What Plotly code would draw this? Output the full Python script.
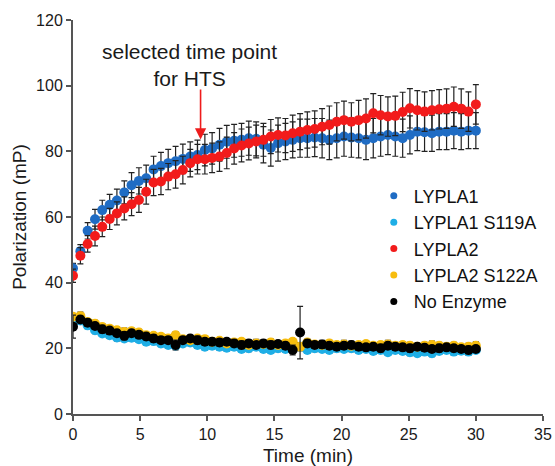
import plotly.graph_objects as go

time_min = [0.00, 0.55, 1.09, 1.64, 2.18, 2.73, 3.27, 3.82, 4.36, 4.91,
            5.45, 6.00, 6.55, 7.09, 7.64, 8.18, 8.73, 9.27, 9.82, 10.36,
            10.91, 11.45, 12.00, 12.55, 13.09, 13.64, 14.18, 14.73, 15.27, 15.82,
            16.36, 16.91, 17.45, 18.00, 18.55, 19.09, 19.64, 20.18, 20.73, 21.27,
            21.82, 22.36, 22.91, 23.45, 24.00, 24.55, 25.09, 25.64, 26.18, 26.73,
            27.27, 27.82, 28.36, 28.91, 29.45, 30.00]

lypla1 = [44.4, 49.6, 55.8, 59.3, 62.1, 63.7, 65.0, 67.5, 69.7, 71.0,
          71.8, 74.5, 75.5, 76.4, 77.0, 77.7, 78.4, 78.9, 80.4, 80.9,
          82.0, 82.9, 83.2, 83.5, 84.0, 83.8, 82.0, 81.0, 82.5, 83.0,
          83.5, 84.0, 84.0, 84.2, 84.0, 83.5, 84.0, 84.5, 84.2, 84.0,
          83.5, 84.0, 84.5, 85.0, 84.5, 84.0, 85.0, 86.0, 85.8, 85.5,
          86.0, 86.0, 86.3, 86.0, 86.3, 86.3]
lypla1_err = [1.5, 2.0, 2.5, 3.0, 3.0, 3.2, 3.5, 3.5, 3.8, 4.0,
              4.0, 4.0, 4.2, 4.2, 4.5, 4.5, 4.5, 4.5, 4.8, 4.8,
              5.0, 5.0, 5.0, 5.0, 5.2, 5.2, 5.5, 5.5, 5.5, 5.5,
              5.5, 5.8, 5.8, 5.8, 6.0, 6.0, 6.0, 6.0, 6.0, 6.0,
              6.0, 6.0, 6.0, 6.0, 6.0, 5.8, 5.8, 5.8, 5.8, 5.5,
              5.5, 5.5, 5.5, 5.5, 5.5, 5.5]

lypla1_s119a = [28.0, 28.5, 27.0, 25.5, 24.5, 24.0, 23.3, 23.0, 23.2, 22.8,
                22.0, 22.2, 21.5, 21.0, 20.8, 21.5, 21.8, 21.0, 20.5, 20.8,
                20.5, 20.2, 20.5, 19.8, 20.0, 20.5, 19.8, 19.5, 20.0, 19.8,
                20.2, 20.5, 19.5, 20.0, 19.8, 19.5, 20.0, 19.8, 20.0, 19.5,
                19.8, 19.2, 19.5, 18.8, 19.5, 19.2, 18.8, 18.5, 19.0, 18.5,
                19.2, 19.5, 19.0, 19.3, 19.0, 19.5]
lypla1_s119a_err = [1.2, 1.0, 1.0, 1.0, 0.8, 1.0, 1.0, 0.8, 1.0, 1.0,
                    1.0, 0.8, 1.0, 1.0, 1.0, 0.8, 1.0, 1.0, 1.0, 0.8,
                    1.0, 1.0, 1.0, 0.8, 1.0, 1.0, 1.0, 0.8, 1.0, 1.0,
                    1.0, 0.8, 1.0, 1.0, 1.0, 0.8, 1.0, 1.0, 1.0, 0.8,
                    1.0, 1.0, 1.0, 0.8, 1.0, 1.0, 1.0, 0.8, 1.0, 1.0,
                    1.0, 0.8, 1.0, 1.0, 1.0, 0.8]

lypla2 = [42.1, 48.2, 51.8, 54.2, 57.0, 59.4, 61.1, 62.6, 63.9, 65.2,
          67.7, 70.5, 70.8, 72.3, 73.0, 74.3, 76.4, 77.6, 77.6, 78.0,
          78.4, 79.5, 80.9, 81.8, 82.4, 83.0, 83.5, 84.5, 85.0, 84.8,
          85.5, 86.0, 86.5, 86.8, 87.5, 88.0, 89.0, 89.5, 89.0, 89.5,
          90.0, 91.6, 91.0, 90.6, 90.8, 92.0, 93.1, 92.5, 92.1, 92.5,
          92.8, 93.0, 93.6, 93.0, 92.1, 94.3]
lypla2_err = [2.0, 2.5, 2.5, 3.0, 3.0, 3.2, 3.5, 3.5, 3.5, 3.8,
              3.8, 4.0, 4.0, 4.0, 4.2, 4.2, 4.2, 4.5, 4.5, 4.5,
              4.5, 4.8, 4.8, 5.0, 5.0, 5.0, 5.0, 5.2, 5.2, 5.2,
              5.5, 5.5, 5.5, 5.5, 5.5, 5.8, 5.8, 5.8, 5.8, 6.0,
              6.0, 6.0, 6.0, 6.0, 6.0, 6.0, 6.0, 6.0, 6.0, 6.0,
              6.0, 6.0, 6.0, 6.0, 6.0, 6.0]

lypla2_s122a = [29.6, 29.8, 28.0, 27.5, 26.5, 26.0, 25.5, 25.0, 25.2, 24.8,
                24.0, 23.8, 23.5, 23.0, 24.0, 22.8, 22.5, 23.0, 22.8, 22.0,
                22.3, 21.5, 21.8, 22.0, 21.0, 21.5, 21.3, 21.8, 21.0, 21.5,
                22.0, 20.5, 21.8, 21.2, 21.0, 21.5, 21.0, 21.2, 20.8, 21.0,
                21.3, 20.8, 21.0, 21.2, 20.8, 21.0, 20.8, 20.5, 20.8, 21.0,
                20.8, 20.5, 20.8, 20.3, 20.5, 20.8]
lypla2_s122a_err = [1.0, 1.2, 1.0, 1.0, 1.0, 0.8, 1.0, 1.2, 1.0, 1.0,
                    1.0, 0.8, 1.0, 1.2, 1.0, 1.0, 1.0, 0.8, 1.0, 1.2,
                    1.0, 1.0, 1.0, 0.8, 1.0, 1.2, 1.0, 1.0, 1.0, 0.8,
                    1.0, 1.2, 1.0, 1.0, 1.0, 0.8, 1.0, 1.2, 1.0, 1.0,
                    1.0, 0.8, 1.0, 1.2, 1.0, 1.0, 1.0, 0.8, 1.0, 1.2,
                    1.0, 1.0, 1.0, 0.8, 1.0, 1.2]

no_enzyme = [26.6, 28.8, 27.8, 26.8, 25.8, 25.4, 24.6, 23.8, 24.6, 24.1,
             23.6, 23.0, 22.5, 22.5, 21.0, 22.5, 23.0, 22.5, 22.0, 22.0,
             21.8, 22.0, 21.5, 21.0, 21.5, 21.0, 21.5, 21.0, 21.3, 20.8,
             19.5, 24.8, 21.5, 21.0, 21.2, 20.8, 20.5, 20.8, 21.0, 20.5,
             20.3, 20.5, 20.0, 20.8, 20.5, 20.3, 20.0, 20.5, 20.2, 19.8,
             20.0, 20.3, 20.0, 19.8, 19.5, 19.8]
no_enzyme_err = [3.5, 1.0, 1.0, 1.0, 1.2, 1.0, 1.0, 1.2, 1.0, 1.0,
                 1.0, 1.2, 1.0, 1.0, 1.5, 1.0, 1.0, 1.2, 1.0, 1.0,
                 1.2, 1.0, 1.0, 1.2, 1.0, 1.0, 1.0, 1.2, 1.0, 1.0,
                 1.5, 8.0, 1.0, 1.0, 1.2, 1.0, 1.0, 1.0, 1.2, 1.0,
                 1.0, 1.0, 1.2, 1.0, 1.0, 1.0, 1.2, 1.0, 1.0, 1.0,
                 1.2, 1.0, 1.0, 1.0, 1.2, 1.0]

series = [
    ("LYPLA1", lypla1, lypla1_err, "#1f6cc4"),
    ("LYPLA1 S119A", lypla1_s119a, lypla1_s119a_err, "#1eaee6"),
    ("LYPLA2", lypla2, lypla2_err, "#f21b1b"),
    ("LYPLA2 S122A", lypla2_s122a, lypla2_s122a_err, "#f7bd0f"),
    ("No Enzyme", no_enzyme, no_enzyme_err, "#000000"),
]

FONT = "Liberation Sans, Arial, sans-serif"
fig = go.Figure()

for name, vals, err, col in series:
    fig.add_trace(go.Scatter(
        x=time_min, y=vals, mode="markers", name=name,
        legendgroup=name, showlegend=False,
        marker=dict(color=col, size=10, line=dict(width=0)),
        error_y=dict(type="data", array=err, visible=True,
                     color="#222222", thickness=1.2, width=3),
    ))

for name, vals, err, col in series:
    fig.add_trace(go.Scatter(
        x=[None], y=[None], mode="markers", name=name,
        legendgroup=name, showlegend=True,
        marker=dict(color=col, size=7),
    ))

fig.add_annotation(
    x=8.7, y=106.4, xref="x", yref="y",
    text="selected time point<br>for HTS", showarrow=False,
    font=dict(family=FONT, size=21, color="#1a1a1a"),
    align="center", xanchor="center", yanchor="middle",
)
fig.add_annotation(
    x=9.5, y=83.6, xref="x", yref="y",
    ax=9.5, ay=99.3, axref="x", ayref="y",
    text="", showarrow=True, arrowhead=2, arrowsize=1.4,
    arrowwidth=1.6, arrowcolor="#ee1c1c",
)

fig.update_layout(
    width=555, height=466,
    margin=dict(l=73, r=12, t=20, b=52, autoexpand=False),
    paper_bgcolor="white", plot_bgcolor="white",
    font=dict(family=FONT, size=16, color="#1a1a1a"),
    legend=dict(
        x=0.64, y=0.60, xanchor="left", yanchor="top",
        font=dict(family=FONT, size=18, color="#111111"),
        bgcolor="rgba(0,0,0,0)", traceorder="normal",
        itemwidth=30,
    ),
    xaxis=dict(
        range=[0, 35], tickmode="linear", tick0=0, dtick=5,
        showgrid=False, zeroline=False,
        showline=True, linecolor="#555555", linewidth=2,
        ticks="outside", ticklen=5, tickwidth=1.5, tickcolor="#555555",
        tickfont=dict(family=FONT, size=16, color="#1a1a1a"),
        title=dict(text="Time (min)", font=dict(family=FONT, size=19, color="#1a1a1a"), standoff=10),
        automargin=False,
    ),
    yaxis=dict(
        range=[0, 120], tickmode="linear", tick0=0, dtick=20,
        showgrid=False, zeroline=False,
        showline=True, linecolor="#555555", linewidth=2,
        ticks="outside", ticklen=5, tickwidth=1.5, tickcolor="#555555",
        tickfont=dict(family=FONT, size=16, color="#1a1a1a"),
        title=dict(text="Polarization (mP)", font=dict(family=FONT, size=19, color="#1a1a1a"), standoff=4),
        automargin=False,
    ),
)

# remove the default 8px page margin so the 555x466 figure fills the window exactly
fig.write_html(
    "out.html",
    config={"displayModeBar": False},
    post_script="document.body.style.margin='0';document.body.style.overflow='hidden';",
)
